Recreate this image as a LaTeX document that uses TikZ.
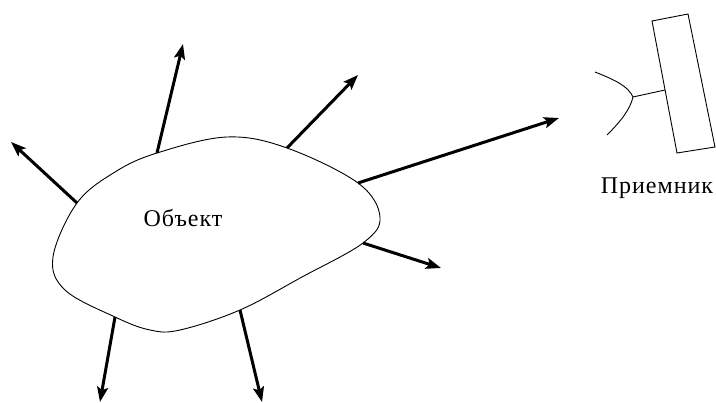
\documentclass[tikz,border=0pt]{standalone}
\usepackage{fontspec}
\setmainfont{Liberation Serif}
\usetikzlibrary{arrows.meta}
\begin{document}
\begin{tikzpicture}[x=1pt,y=-1pt,
  ray/.style={line width=3pt,-{Stealth[length=15pt,width=11pt,inset=3pt]}},
  thin line/.style={line width=0.9pt},
  lbl/.style={font=\fontsize{24}{26}\selectfont\addfontfeature{LetterSpace=4}, inner sep=0pt}]
\useasboundingbox (0,0) rectangle (716,403);
% blob
\draw[thin line] plot[smooth cycle, tension=0.6] coordinates {
 (157,153) (227,137) (287,148) (358,183) (380,217) (363,243) (302,277)
 (240,310) (180,330) (150,330) (115,317) (65,290) (53,257) (77,203) (115,172)};
\node[lbl] (obj) at (183,218) {Объект};
% ray start points on outline
\coordinate (s1) at (77,203);
\coordinate (s2) at (157,153);
\coordinate (s3) at (287,148);
\coordinate (s4) at (358,183);
\coordinate (s5) at (363,243);
\coordinate (s6) at (240,310);
\coordinate (s7) at (115,317);
% ray ends
\coordinate (e1) at (11,142);
\coordinate (e2) at (183,44);
\coordinate (e3) at (358,75);
\coordinate (e4) at (559,118);
\coordinate (e5) at (441,268);
\coordinate (e6) at (262,402);
\coordinate (e7) at (100,402);
\foreach \i in {1,...,7} \draw[ray] (s\i) -- (e\i);
% receiver
\draw[thin line] (652,21) -- (688,14) -- (715,147) -- (677,153) -- cycle;
\coordinate (dishtop) at (595,72);
\coordinate (dishmid) at (633,97);
\coordinate (dishbot) at (607,135);
\coordinate (stem) at (665,90);
\draw[thin line] (dishtop) .. controls (615,80) and (628,86) .. (dishmid)
  .. controls (630,110) and (620,122) .. (dishbot);
\draw[thin line] (dishmid) -- (stem);
\node[lbl] (rec) at (657,188) {Приемник};
\end{tikzpicture}
\end{document}
